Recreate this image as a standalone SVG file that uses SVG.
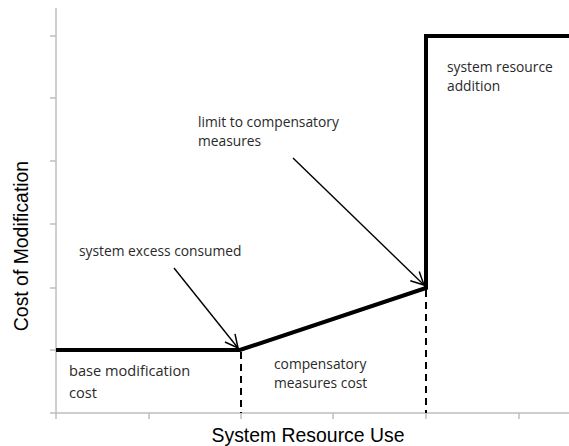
<svg xmlns="http://www.w3.org/2000/svg" width="569" height="446" viewBox="0 0 569 446">
<defs>
<marker id="ah" viewBox="0 0 14 14" refX="13" refY="7" markerWidth="15" markerHeight="15" markerUnits="userSpaceOnUse" orient="auto">
<path d="M1,1 L13,7 L1,13" fill="none" stroke="#000" stroke-width="1.4"/>
</marker>
<style>
.ax{stroke:#bfbfbf;stroke-width:1.5;fill:none}
.curve{stroke:#000;stroke-width:4;fill:none;stroke-linejoin:miter}
.dash{stroke:#000;stroke-width:2;stroke-dasharray:7,5;fill:none}
.arr{stroke:#000;stroke-width:1.4;fill:none;marker-end:url(#ah)}
.lbl{font-family:"Open Sans","Liberation Sans",sans-serif;font-size:13.8px;fill:#2a2a2a}
.big{font-family:"Liberation Sans",Arial,sans-serif;font-size:19.4px;fill:#000}
</style>
</defs>
<g id="axes">
<path class="ax" d="M56,8 V413 H569"/>
<path class="ax" d="M50,36 H56 M50,98 H56 M50,161 H56 M50,224 H56 M50,288 H56 M50,350 H56 M50,413 H56"/>
<path class="ax" d="M56,413 V419 M149,413 V419 M241,413 V419 M333,413 V419 M426,413 V419 M519,413 V419"/>
<text class="big" x="308" y="442" text-anchor="middle">System Resource Use</text>
<text class="big" transform="translate(28,246) rotate(-90)" text-anchor="middle">Cost of Modification</text>
</g>
<g id="curve">
<path class="curve" d="M56,350 H240 L426,288 V36 H569"/>
</g>
<g id="connectors">
<path class="dash" d="M241,352 V413"/>
<path class="dash" d="M426,290 V413"/>
<path class="arr" d="M174,268 L238,348"/>
<path class="arr" d="M293,158 L424,285"/>
</g>
<g id="label-excess">
<text class="lbl" x="79" y="256">system excess consumed</text>
</g>
<g id="label-base">
<text class="lbl" x="69" y="376" style="font-size:14.6px">base modification</text>
<text class="lbl" x="69" y="398" style="font-size:14.6px">cost</text>
</g>
<g id="label-comp">
<text class="lbl" x="274" y="369">compensatory</text>
<text class="lbl" x="274" y="388">measures cost</text>
</g>
<g id="label-limit">
<text class="lbl" x="198" y="127">limit to compensatory</text>
<text class="lbl" x="198" y="146">measures</text>
</g>
<g id="label-addition">
<text class="lbl" x="447" y="72">system resource</text>
<text class="lbl" x="447" y="91">addition</text>
</g>
</svg>
